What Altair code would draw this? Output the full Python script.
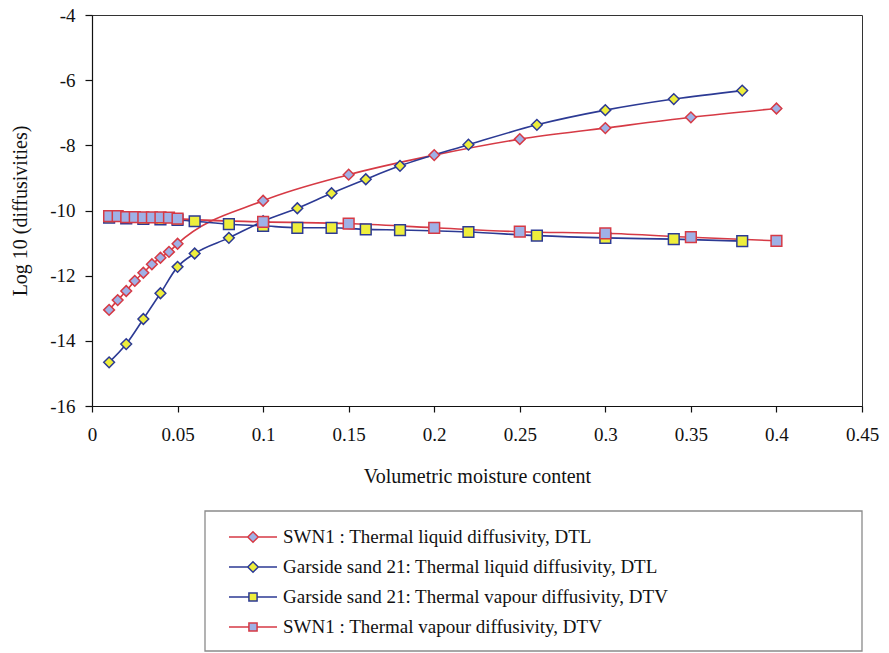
import altair as alt
import pandas as pd

# ---------------- data ----------------
S1 = "SWN1 : Thermal liquid diffusivity, DTL"
S2 = "Garside sand 21: Thermal liquid diffusivity, DTL"
S3 = "Garside sand 21: Thermal vapour diffusivity, DTV"
S4 = "SWN1 : Thermal vapour diffusivity, DTV"
series_order = [S1, S2, S3, S4]
marker_kind = {S1: "diamond", S2: "diamond", S3: "square", S4: "square"}

swn1_x = [0.01, 0.015, 0.02, 0.025, 0.03, 0.035, 0.04, 0.045, 0.05,
          0.1, 0.15, 0.2, 0.25, 0.3, 0.35, 0.4]
swn1_dtl = [-13.05, -12.75, -12.47, -12.16, -11.91, -11.65, -11.45, -11.27, -11.02,
            -9.70, -8.90, -8.30, -7.81, -7.47, -7.14, -6.87]
swn1_dtv = [-10.17, -10.17, -10.20, -10.20, -10.21, -10.21, -10.21, -10.22, -10.25,
            -10.35, -10.40, -10.53, -10.65, -10.70, -10.82, -10.93]

garside_x = [0.01, 0.02, 0.03, 0.04, 0.05, 0.06, 0.08, 0.1, 0.12, 0.14, 0.16,
             0.18, 0.22, 0.26, 0.3, 0.34, 0.38]
garside_dtl = [-14.66, -14.10, -13.33, -12.54, -11.73, -11.32, -10.84, -10.33, -9.93,
               -9.47, -9.04, -8.63, -7.98, -7.37, -6.92, -6.58, -6.32]
garside_dtv = [-10.22, -10.24, -10.26, -10.27, -10.29, -10.33, -10.42, -10.47, -10.53,
               -10.53, -10.58, -10.60, -10.66, -10.77, -10.84, -10.88, -10.94]

x_ticks = [0, 0.05, 0.1, 0.15, 0.2, 0.25, 0.3, 0.35, 0.4, 0.45]
y_ticks = [-16, -14, -12, -10, -8, -6, -4]

# ---------------- styling ----------------
RED = "#d63a45"
NAVY = "#2c3a94"
LAV = "#9fb1e6"
YEL = "#eeee3c"
FONT = "Liberation Serif"

rows = []
for name, xs, ys in [(S1, swn1_x, swn1_dtl), (S2, garside_x, garside_dtl),
                     (S3, garside_x, garside_dtv), (S4, swn1_x, swn1_dtv)]:
    for xv, yv in zip(xs, ys):
        rows.append({"series": name, "kind": marker_kind[name], "x": xv, "y": yv})
df = pd.DataFrame(rows)

stroke_scale = alt.Scale(domain=series_order, range=[RED, NAVY, NAVY, RED])
fill_scale = alt.Scale(domain=series_order, range=[LAV, YEL, YEL, LAV])
shape_scale = alt.Scale(domain=["diamond", "square"], range=["diamond", "square"])

DIAMOND_PATH = "M-1,0L-0.22,0M0.22,0L1,0M-0.22,0L0,-0.22L0.22,0L0,0.22Z"
SQUARE_PATH = "M-1,0L-0.17,0M0.17,0L1,0M-0.17,-0.17L0.17,-0.17L0.17,0.17L-0.17,0.17Z"

legend = alt.Legend(
    title=None, orient="none", legendX=136, legendY=512, padding=0,
    clipHeight=20, rowPadding=10, labelFont=FONT, labelFontSize=19,
    labelColor="#111111", labelOffset=5, labelLimit=700,
    symbolSize=2304, symbolStrokeWidth=1.5, symbolOpacity=1,
    symbolType=alt.ExprRef(
        "indexof(datum.value, 'liquid') >= 0 ? '" + DIAMOND_PATH + "' : '" + SQUARE_PATH + "'"
    ),
)

x_enc = alt.X("x:Q", scale=alt.Scale(domain=[0, 0.45], nice=False),
              axis=alt.Axis(values=x_ticks, title="Volumetric moisture content",
                            labelExpr="'' + datum.value", grid=False, labelFlush=False,
                            tickSize=6, labelPadding=13, titlePadding=22))
y_enc = alt.Y("y:Q", scale=alt.Scale(domain=[-16, -4], nice=False),
              axis=alt.Axis(values=y_ticks, title="Log 10 (diffusivities)",
                            labelExpr="'' + datum.value", grid=False, labelFlush=False,
                            tickSize=7, labelPadding=10, titlePadding=19))

base = alt.Chart(df)

lines = base.mark_line(interpolate="monotone", strokeWidth=1.6).encode(
    x=x_enc, y=y_enc,
    stroke=alt.Stroke("series:N", scale=stroke_scale, legend=legend),
    detail="series:N",
)

points = base.mark_point(opacity=1, strokeWidth=1.5, size=115).encode(
    x=x_enc, y=y_enc,
    stroke=alt.Stroke("series:N", scale=stroke_scale, legend=legend),
    fill=alt.Fill("series:N", scale=fill_scale, legend=legend),
    shape=alt.Shape("kind:N", scale=shape_scale, legend=None),
)

legend_box = alt.Chart(alt.Data(values=[{}])).mark_rect(
    fillOpacity=0, stroke="#8a8a8a", strokeWidth=1.3
).encode(
    x=alt.value(113), x2=alt.value(770), y=alt.value(496), y2=alt.value(636)
)

chart = alt.layer(lines, points, legend_box).properties(
    width=770, height=391,
    background="white",
    autosize=alt.AutoSizeParams(type="none"),
    padding={"left": 92, "top": 15, "right": 27, "bottom": 247},
).configure_view(
    stroke="#333333", strokeWidth=1
).configure_axis(
    labelFont=FONT, labelFontSize=19, labelColor="#111111",
    titleFont=FONT, titleFontSize=20, titleColor="#111111", titleFontWeight="normal",
    domainColor="#111111", tickColor="#111111", domainWidth=1.2, tickWidth=1.2,
)

chart.save("out.html", embed_options={"renderer": "svg", "actions": False})
